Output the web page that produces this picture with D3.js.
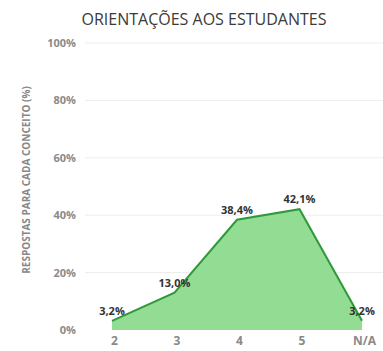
<!DOCTYPE html>
<html><head><meta charset="utf-8">
<script src="https://cdn.jsdelivr.net/npm/d3@7"></script>
<style>body{margin:0;background:#fff}svg{display:block}</style>
</head><body>
<svg id="c" width="383" height="351"></svg>
<script>
const categories = ["2","3","4","5","N/A"];
const values = [3.2, 13.0, 38.4, 42.1, 3.2];
const valueLabels = ["3,2%","13,0%","38,4%","42,1%","3,2%"];
const yTicks = [0,20,40,60,80,100];
const title = "ORIENTAÇÕES AOS ESTUDANTES";
const yTitle = "RESPOSTAS PARA CADA CONCEITO (%)";

const svg = d3.select("#c");
const x = d3.scalePoint().domain(categories).range([112, 362]);
const y = d3.scaleLinear().domain([0,100]).range([330, 43]);
const font = "'Open Sans', sans-serif";

// grid
svg.append("g").selectAll("line").data(yTicks.filter(d=>d>0)).join("line")
  .attr("x1",85).attr("x2",383).attr("y1",d=>y(d)).attr("y2",d=>y(d))
  .attr("stroke","#ededed").attr("stroke-width",1);

// y axis labels
const yAxis = d3.axisLeft(y).tickValues(yTicks).tickFormat(d=>d+"%").tickSize(0).tickPadding(0);
const gy = svg.append("g").attr("transform","translate(76,0)").call(yAxis);
gy.select(".domain").remove();
gy.selectAll("text").attr("font-family",font).attr("font-size",11).attr("font-weight","bold").attr("fill","#8a8a8a");

// area
const area = d3.area().x((d,i)=>x(categories[i])).y0(y(0)).y1(d=>y(d));
svg.append("path").datum(values).attr("d",area).attr("fill","#93dc93");
const line = d3.line().x((d,i)=>x(categories[i])).y(d=>y(d));
svg.append("path").datum(values).attr("d",line).attr("fill","none").attr("stroke","#2f9a3a").attr("stroke-width",2);

// x axis labels
const xAxis = d3.axisBottom(x).tickSize(0).tickPadding(0);
const gx = svg.append("g").attr("transform","translate(2,336)").call(xAxis);
gx.select(".domain").remove();
gx.selectAll("text").attr("font-family",font).attr("font-size",12).attr("font-weight","bold").attr("fill","#8a8a8a");

// value labels
svg.append("g").selectAll("text").data(values).join("text")
  .attr("x",(d,i)=>x(categories[i])).attr("y",d=>y(d)-6)
  .attr("text-anchor","middle").attr("font-family",font).attr("font-size",11).attr("font-weight","bold")
  .attr("fill","#333").text((d,i)=>valueLabels[i]);

// title
svg.append("text").attr("x",204).attr("y",25).attr("text-anchor","middle")
  .attr("font-family",font).attr("font-size",16).attr("fill","#3a3a3a").text(title);

// y title
svg.append("text").attr("transform","translate(30,180) rotate(-90)").attr("text-anchor","middle")
  .attr("font-family",font).attr("font-size",10).attr("font-weight","bold").attr("fill","#888").text(yTitle);
</script>
</body></html>
